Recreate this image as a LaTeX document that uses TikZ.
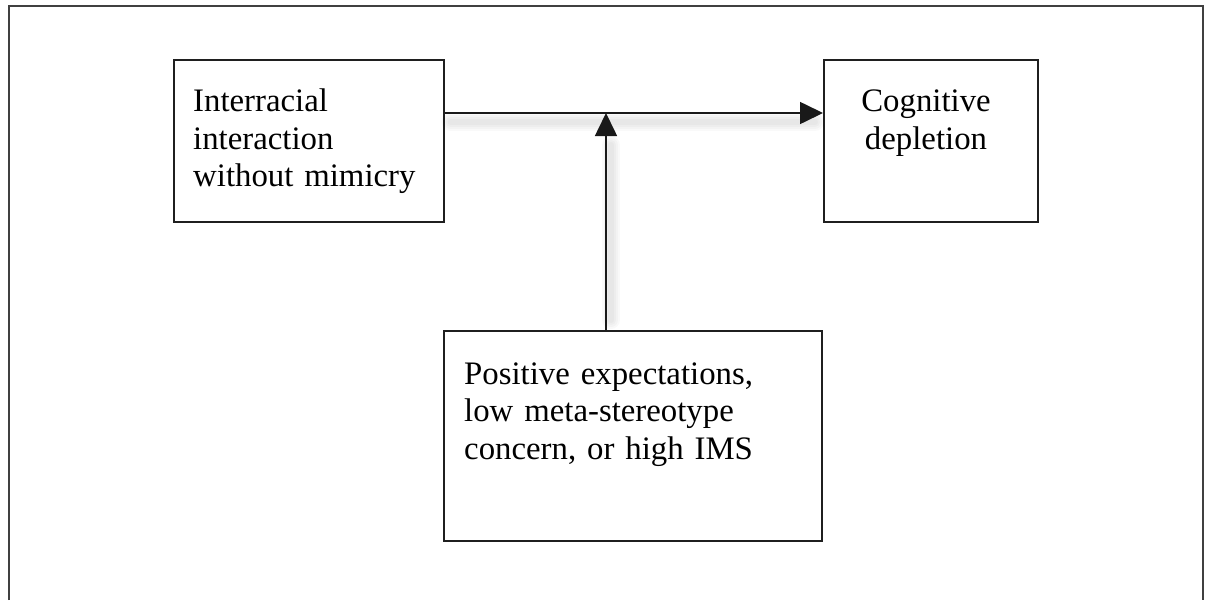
\documentclass[tikz,border=0pt]{standalone}
\usepackage{fontspec}
\setmainfont{Liberation Serif}
\usetikzlibrary{arrows.meta}
\begin{document}
\begin{tikzpicture}[x=1pt,y=-1pt,
  boxnode/.style={draw=black!88, line width=1.6pt, rectangle, inner sep=0pt, anchor=north west},
  txt/.style={inner sep=0pt, font=\fontsize{32.8}{37.5}\selectfont},
  conn/.style={line width=1.6pt, draw=black!90, -{Triangle[length=23pt,width=22pt]}},
  softshadow/.style={line width=#1, draw=black, opacity=0.022, line cap=round}
]
\useasboundingbox (0,0) rectangle (1207,600);
\fill[white] (0,0) rectangle (1207,600);
% outer frame (open at the bottom, runs off the page)
\draw[line width=2pt, draw=black!75] (9,600) -- (9,6) -- (1203,6) -- (1203,600);

% boxes
\node[boxnode, minimum width=270pt, minimum height=162pt] (a) at (173,59) {};
\node[boxnode, minimum width=214pt, minimum height=162pt] (b) at (823,59) {};
\node[boxnode, minimum width=378pt, minimum height=210pt] (c) at (443,330) {};

% texts
\node[txt, anchor=base west, text width=250pt, align=left] (ta) at (193,111.5)
  {Interracial\\interaction\\without mimicry};
\node[txt, anchor=base, text width=200pt, align=center] (tb) at (926,111.5)
  {Cognitive\\depletion};
\node[txt, anchor=base west, text width=350pt, align=left] (tc) at (464,384)
  {Positive expectations,\\low meta-stereotype\\concern, or high IMS};

% junction point on the horizontal connector
\coordinate (j) at (606,113);

% soft shadows
\foreach \w in {18,14,10,6}{
  \draw[softshadow=\w pt] ([shift={(6,9)}]a.east |- j) -- ([shift={(-8,9)}]b.west |- j);
  \draw[softshadow=\w pt] ([shift={(5,-10)}]c.north -| j) -- ([shift={(5,32)}]j);
}

% connectors
\draw[conn] (a.east |- j) -- (b.west |- j);
\draw[conn] (c.north -| j) -- (j);
\end{tikzpicture}
\end{document}
